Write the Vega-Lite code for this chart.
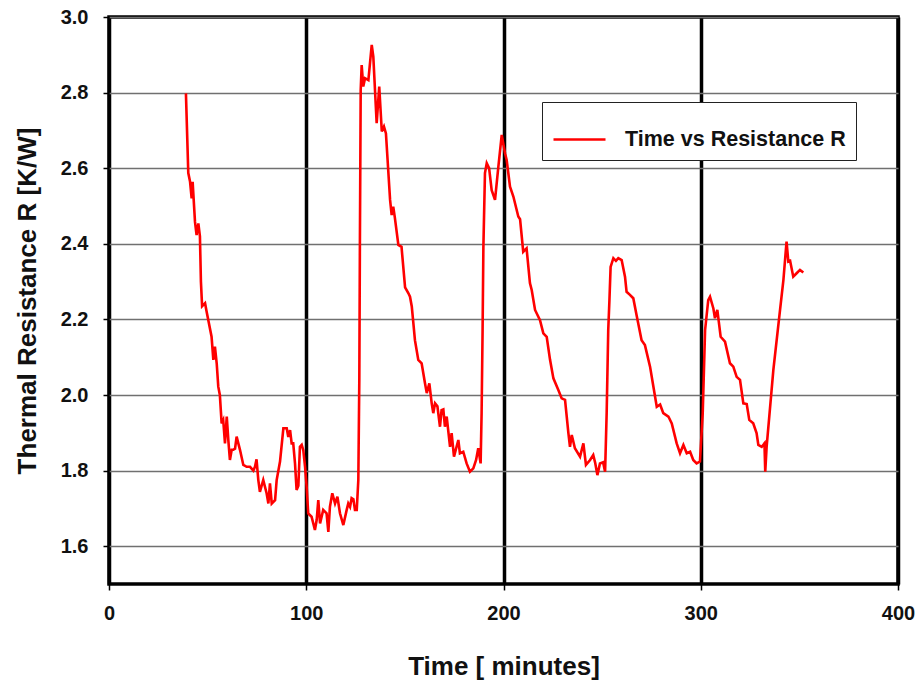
{
  "$schema": "https://vega.github.io/schema/vega-lite/v6.json",
  "width": 789,
  "height": 567,
  "autosize": "none",
  "padding": {"left": 109, "top": 17, "right": 22, "bottom": 106},
  "background": "white",
  "config": {
    "font": "Liberation Sans",
    "view": {"stroke": "black", "strokeWidth": 3.5},
    "axis": {
      "labelFont": "Liberation Sans",
      "titleFont": "Liberation Sans",
      "labelFontWeight": "bold",
      "titleFontWeight": "bold",
      "labelFontSize": 20,
      "titleFontSize": 26,
      "labelColor": "#111",
      "titleColor": "#111",
      "tickColor": "black",
      "tickWidth": 1.5,
      "tickSize": 6,
      "domain": false,
      "labelFlush": false
    }
  },
  "data": {
    "values": [
      {"t": 39.0, "R": 2.798}, {"t": 40.2, "R": 2.587}, {"t": 41.1, "R": 2.564}, {"t": 41.9, "R": 2.52},
      {"t": 42.4, "R": 2.564}, {"t": 43.6, "R": 2.458}, {"t": 44.4, "R": 2.423}, {"t": 45.3, "R": 2.454},
      {"t": 46.1, "R": 2.42}, {"t": 46.6, "R": 2.3}, {"t": 47.2, "R": 2.235}, {"t": 48.7, "R": 2.243},
      {"t": 49.5, "R": 2.22}, {"t": 52.0, "R": 2.154}, {"t": 52.9, "R": 2.093}, {"t": 53.7, "R": 2.128},
      {"t": 54.6, "R": 2.084}, {"t": 55.4, "R": 2.022}, {"t": 56.2, "R": 2.0}, {"t": 57.1, "R": 1.925},
      {"t": 57.9, "R": 1.934}, {"t": 58.8, "R": 1.872}, {"t": 59.7, "R": 1.943}, {"t": 60.5, "R": 1.88},
      {"t": 61.3, "R": 1.828}, {"t": 62.2, "R": 1.855}, {"t": 63.0, "R": 1.855}, {"t": 63.9, "R": 1.858},
      {"t": 64.7, "R": 1.89}, {"t": 66.4, "R": 1.855}, {"t": 68.1, "R": 1.815}, {"t": 69.8, "R": 1.81},
      {"t": 71.5, "R": 1.81}, {"t": 73.2, "R": 1.8}, {"t": 74.0, "R": 1.81}, {"t": 74.8, "R": 1.83},
      {"t": 75.7, "R": 1.775}, {"t": 76.5, "R": 1.744}, {"t": 78.2, "R": 1.775}, {"t": 79.9, "R": 1.74},
      {"t": 80.8, "R": 1.713}, {"t": 81.6, "R": 1.766}, {"t": 82.5, "R": 1.713}, {"t": 84.2, "R": 1.722},
      {"t": 85.0, "R": 1.775}, {"t": 86.7, "R": 1.824}, {"t": 88.4, "R": 1.912}, {"t": 90.1, "R": 1.912},
      {"t": 90.9, "R": 1.889}, {"t": 91.8, "R": 1.907}, {"t": 92.6, "R": 1.872}, {"t": 93.4, "R": 1.872},
      {"t": 94.3, "R": 1.819}, {"t": 95.1, "R": 1.749}, {"t": 96.0, "R": 1.76}, {"t": 96.8, "R": 1.863},
      {"t": 97.7, "R": 1.868}, {"t": 98.5, "R": 1.854}, {"t": 99.4, "R": 1.81}, {"t": 100.2, "R": 1.757},
      {"t": 101.0, "R": 1.687}, {"t": 102.7, "R": 1.678}, {"t": 104.4, "R": 1.643}, {"t": 105.3, "R": 1.67},
      {"t": 106.1, "R": 1.722}, {"t": 107.0, "R": 1.66}, {"t": 108.6, "R": 1.696}, {"t": 110.3, "R": 1.687},
      {"t": 111.2, "R": 1.638}, {"t": 112.0, "R": 1.704}, {"t": 113.2, "R": 1.74}, {"t": 114.6, "R": 1.713},
      {"t": 115.8, "R": 1.731}, {"t": 117.1, "R": 1.687}, {"t": 118.8, "R": 1.656}, {"t": 120.5, "R": 1.696},
      {"t": 121.3, "R": 1.713}, {"t": 122.2, "R": 1.704}, {"t": 123.0, "R": 1.727}, {"t": 123.9, "R": 1.724},
      {"t": 124.7, "R": 1.696}, {"t": 125.6, "R": 1.696}, {"t": 126.4, "R": 1.775}, {"t": 126.9, "R": 2.04},
      {"t": 127.2, "R": 2.4}, {"t": 127.6, "R": 2.807}, {"t": 128.1, "R": 2.873}, {"t": 128.9, "R": 2.816},
      {"t": 129.8, "R": 2.838}, {"t": 131.5, "R": 2.833}, {"t": 133.2, "R": 2.926}, {"t": 134.0, "R": 2.895},
      {"t": 135.7, "R": 2.719}, {"t": 137.0, "R": 2.816}, {"t": 138.3, "R": 2.697}, {"t": 139.4, "R": 2.71},
      {"t": 140.4, "R": 2.692}, {"t": 142.5, "R": 2.516}, {"t": 143.3, "R": 2.476}, {"t": 144.1, "R": 2.498},
      {"t": 144.9, "R": 2.47}, {"t": 146.7, "R": 2.397}, {"t": 148.3, "R": 2.392}, {"t": 150.1, "R": 2.285},
      {"t": 151.8, "R": 2.269}, {"t": 152.6, "R": 2.26}, {"t": 153.5, "R": 2.234}, {"t": 154.3, "R": 2.19},
      {"t": 155.1, "R": 2.145}, {"t": 156.8, "R": 2.093}, {"t": 158.5, "R": 2.084}, {"t": 160.2, "R": 2.031},
      {"t": 161.1, "R": 2.005}, {"t": 162.4, "R": 2.031}, {"t": 163.6, "R": 1.978}, {"t": 164.4, "R": 1.952},
      {"t": 165.3, "R": 1.978}, {"t": 166.5, "R": 1.97}, {"t": 167.8, "R": 1.916}, {"t": 168.6, "R": 1.96},
      {"t": 169.5, "R": 1.962}, {"t": 170.3, "R": 1.916}, {"t": 171.2, "R": 1.943}, {"t": 172.9, "R": 1.863},
      {"t": 173.7, "R": 1.899}, {"t": 174.9, "R": 1.837}, {"t": 177.1, "R": 1.881}, {"t": 177.9, "R": 1.846},
      {"t": 179.6, "R": 1.85}, {"t": 181.3, "R": 1.819}, {"t": 183.0, "R": 1.797}, {"t": 184.7, "R": 1.806},
      {"t": 186.1, "R": 1.828}, {"t": 187.2, "R": 1.859}, {"t": 188.4, "R": 1.819}, {"t": 188.9, "R": 1.952},
      {"t": 189.4, "R": 2.172}, {"t": 189.8, "R": 2.39}, {"t": 190.6, "R": 2.587}, {"t": 191.5, "R": 2.613},
      {"t": 192.7, "R": 2.6}, {"t": 194.0, "R": 2.542}, {"t": 195.7, "R": 2.516}, {"t": 197.4, "R": 2.604},
      {"t": 199.1, "R": 2.688}, {"t": 200.8, "R": 2.639}, {"t": 201.6, "R": 2.622}, {"t": 203.3, "R": 2.551},
      {"t": 205.0, "R": 2.525}, {"t": 207.5, "R": 2.472}, {"t": 208.4, "R": 2.465}, {"t": 210.0, "R": 2.379},
      {"t": 211.7, "R": 2.388}, {"t": 213.4, "R": 2.296}, {"t": 214.3, "R": 2.278}, {"t": 216.0, "R": 2.225},
      {"t": 218.5, "R": 2.198}, {"t": 220.2, "R": 2.163}, {"t": 221.9, "R": 2.154}, {"t": 223.6, "R": 2.093},
      {"t": 225.3, "R": 2.044}, {"t": 227.8, "R": 2.013}, {"t": 229.5, "R": 1.991}, {"t": 231.2, "R": 1.987},
      {"t": 232.9, "R": 1.899}, {"t": 233.7, "R": 1.863}, {"t": 234.6, "R": 1.894}, {"t": 236.2, "R": 1.859},
      {"t": 238.8, "R": 1.837}, {"t": 240.5, "R": 1.872}, {"t": 241.8, "R": 1.815}, {"t": 243.9, "R": 1.828},
      {"t": 245.5, "R": 1.841}, {"t": 246.5, "R": 1.82}, {"t": 247.6, "R": 1.788}, {"t": 248.9, "R": 1.819},
      {"t": 250.5, "R": 1.822}, {"t": 251.5, "R": 1.797}, {"t": 252.3, "R": 1.952}, {"t": 253.1, "R": 2.172},
      {"t": 253.7, "R": 2.25}, {"t": 254.3, "R": 2.339}, {"t": 255.7, "R": 2.362}, {"t": 257.0, "R": 2.355},
      {"t": 258.2, "R": 2.362}, {"t": 259.9, "R": 2.357}, {"t": 261.6, "R": 2.313}, {"t": 262.4, "R": 2.273},
      {"t": 264.1, "R": 2.265}, {"t": 265.8, "R": 2.256}, {"t": 267.5, "R": 2.21}, {"t": 270.0, "R": 2.145},
      {"t": 271.7, "R": 2.132}, {"t": 274.3, "R": 2.075}, {"t": 276.0, "R": 2.022}, {"t": 277.7, "R": 1.969},
      {"t": 279.4, "R": 1.975}, {"t": 281.0, "R": 1.952}, {"t": 283.6, "R": 1.943}, {"t": 285.3, "R": 1.925},
      {"t": 287.8, "R": 1.872}, {"t": 289.5, "R": 1.846}, {"t": 291.2, "R": 1.868}, {"t": 292.9, "R": 1.846},
      {"t": 294.6, "R": 1.85}, {"t": 296.2, "R": 1.828}, {"t": 297.9, "R": 1.819}, {"t": 299.6, "R": 1.824},
      {"t": 301.0, "R": 1.952}, {"t": 302.2, "R": 2.172}, {"t": 303.8, "R": 2.251}, {"t": 304.7, "R": 2.26},
      {"t": 306.4, "R": 2.229}, {"t": 307.2, "R": 2.203}, {"t": 308.4, "R": 2.225}, {"t": 310.1, "R": 2.154},
      {"t": 312.3, "R": 2.141}, {"t": 314.8, "R": 2.084}, {"t": 316.5, "R": 2.075}, {"t": 318.2, "R": 2.048},
      {"t": 319.9, "R": 2.04}, {"t": 321.6, "R": 1.978}, {"t": 323.3, "R": 1.976}, {"t": 324.6, "R": 1.934},
      {"t": 326.6, "R": 1.925}, {"t": 328.3, "R": 1.899}, {"t": 329.2, "R": 1.868}, {"t": 330.9, "R": 1.863},
      {"t": 332.3, "R": 1.872}, {"t": 332.7, "R": 1.797}, {"t": 333.4, "R": 1.863}, {"t": 336.8, "R": 2.066},
      {"t": 340.2, "R": 2.225}, {"t": 341.9, "R": 2.304}, {"t": 343.5, "R": 2.406}, {"t": 344.4, "R": 2.353},
      {"t": 345.3, "R": 2.355}, {"t": 346.9, "R": 2.313}, {"t": 348.6, "R": 2.322}, {"t": 350.3, "R": 2.331},
      {"t": 352.0, "R": 2.324}
    ]
  },
  "mark": {"type": "line", "strokeWidth": 2.6, "interpolate": "linear"},
  "encoding": {
    "x": {
      "field": "t",
      "type": "quantitative",
      "scale": {"domain": [0, 400], "nice": false},
      "axis": {
        "title": "Time [ minutes]",
        "values": [0, 100, 200, 300, 400],
        "grid": true,
        "gridColor": "black",
        "gridWidth": 3.5,
        "gridOpacity": 1,
        "labelPadding": 13,
        "titlePadding": 30
      }
    },
    "y": {
      "field": "R",
      "type": "quantitative",
      "scale": {"domain": [1.5, 3.0], "nice": false, "zero": false},
      "axis": {
        "title": "Thermal Resistance  R [K/W]",
        "values": [1.6, 1.8, 2.0, 2.2, 2.4, 2.6, 2.8, 3.0],
        "format": ".1f",
        "grid": true,
        "gridColor": "#707070",
        "gridWidth": 1.6,
        "gridOpacity": 1,
        "labelPadding": 15,
        "titlePadding": 20
      }
    },
    "color": {
      "datum": "Time vs Resistance R",
      "type": "nominal",
      "scale": {"range": ["#ff0000"]},
      "legend": {
        "title": null,
        "orient": "none",
        "legendX": 433,
        "legendY": 85,
        "padding": 10,
        "strokeColor": "#222",
        "fillColor": "white",
        "symbolType": "stroke",
        "symbolSize": 2704,
        "symbolStrokeWidth": 2.7,
        "labelFont": "Liberation Sans",
        "labelFontSize": 21.5,
        "labelFontWeight": "bold",
        "labelColor": "#111",
        "labelOffset": 18,
        "labelLimit": 400
      }
    }
  }
}
